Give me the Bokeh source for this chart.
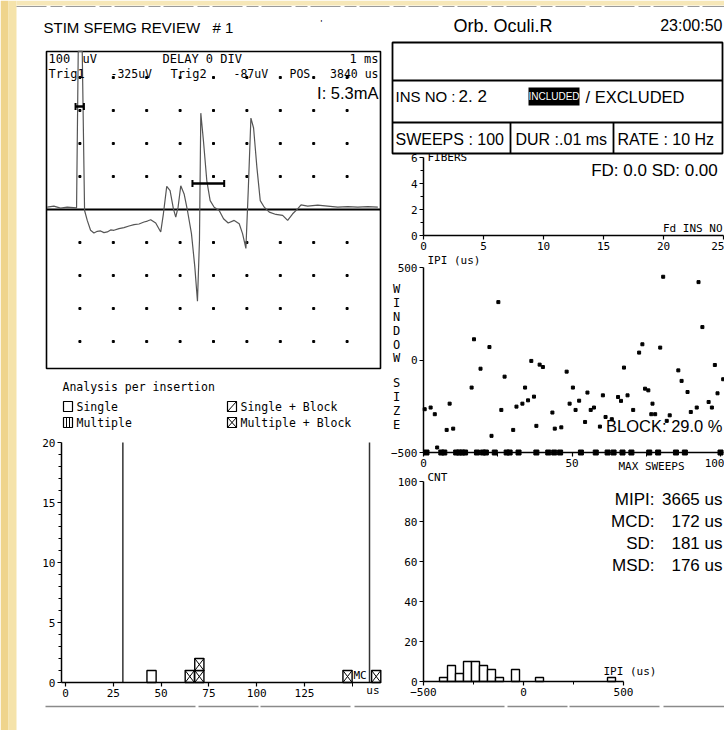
import numpy as np
from bokeh.plotting import figure
from bokeh.models import Range1d, Label, FixedTicker, LinearAxis
from bokeh.embed import file_html
from bokeh.resources import INLINE

MONO = "DejaVu Sans Mono"
SANS = "Liberation Sans"
W, H = 724, 730

# ---------------- data ----------------
# single-fibre EMG trace (time in ms, amplitude in uV)
trace_t_ms = [0.02, 0.22, 0.42, 0.62, 0.90, 0.95, 1.07, 1.14, 1.22, 1.32, 1.42, 1.52, 1.62, 1.72,
              1.82, 1.92, 2.02, 2.17, 2.32, 2.47, 2.62, 2.77, 2.92, 3.02, 3.12, 3.27, 3.42, 3.50,
              3.60, 3.70, 3.80, 3.87, 3.94, 4.02, 4.12, 4.22, 4.34, 4.44, 4.52, 4.58, 4.62, 4.70,
              4.80, 4.90, 5.02, 5.17, 5.30, 5.44, 5.62, 5.77, 5.87, 5.97, 6.04, 6.12, 6.20, 6.30,
              6.40, 6.52, 6.67, 6.87, 7.07, 7.22, 7.37, 7.52, 7.62, 7.82, 8.12, 8.42, 8.72, 9.02,
              9.32, 9.62, 9.92]
trace_uv = [7, 10, 4, 7, 5, 600, 600, -3, -33, -63, -71, -66, -65, -70,
            -68, -62, -63, -58, -55, -50, -46, -44, -38, -35, -31, -41, -68, -13,
            70, 57, 2, -23, 7, 72, 47, -3, -73, -173, -278, -93, 292, 207,
            87, 27, 7, -3, -28, -41, -33, -43, -73, -118, 57, 277, 247, 127,
            27, 7, -8, -15, -18, -33, -13, 2, 14, 10, 13, 10, 7, 9,
            7, 9, 7]
trace_span_ms = (0, 10)
trace_span_uv = (-482, 479)
grid_cols_ms = [1, 2, 3, 4, 5, 6, 7, 8, 9]
grid_rows_uv = [-400, -300, -200, -100, 100, 200, 300, 400]
cursor_start_ms = [0.87, 4.37]
cursor_end_ms = [1.12, 5.32]
cursor_uv = [312, 79]

# analysis per insertion (MCD in us)
mcd_us = [45, 65, 70, 70, 147.5, 162.5]
mcd_kind = ["single", "multi_block", "multi_block", "multi_block", "multi_block", "multi_block"]
mcd_box_us = 4.8
mcd_limits_us = [30, 159]
hist_yticks = [0, 5, 10, 15, 20]
hist_xticks = [0, 25, 50, 75, 100, 125]

# fibers
fib_yticks = [0, 2, 4, 6]
fib_xticks = [0, 5, 10, 15, 20, 25]

# IPI per sweep
ipi_sweep = [0.4, 2.4, 3.8, 4.6, 8.8, 7.8, 10, 16.2, 17, 19.2, 22.2, 22.9, 25.2, 26.2, 27.3,
             30.2, 31.3, 33.3, 34.2, 35.2, 36.3, 37.2, 38, 39.1, 40.2, 43.4, 44.2, 46.4, 48.2,
             49.2, 50.3, 51.2, 52.4, 54.4, 55.2, 56.3, 57.4, 59.4, 60.4, 61.3, 63.4, 65.5, 66.5,
             67.5, 68.7, 70.6, 72.6, 73.7, 74.6, 75.7, 77.1, 76.7, 78, 79.7, 80.7, 81.9, 82.9,
             85.8, 86.9, 88.9, 90, 92.6, 93.9, 92, 96, 97.1, 98.1, 99, 100.9]
ipi_us = [-266, -257, -293, -473, -236, -378, -371, -149, 112, -47, 70, -410, 313, -270, -90,
          -378, -252, -236, -149, -218, -5, -198, -356, -25, -38, -284, -371, -364, -63,
          -236, -149, -270, -220, -335, -176, -270, -257, -360, -191, -308, -320, -200, -221,
          -41, -191, -270, 40, 85, -155, -164, -236, -293, -293, 67, 450, -329, -299,
          -56, -113, -173, -281, 421, 178, -257, -227, -257, -27, -180, -104]
blocked_sweeps = [1, 6, 7, 11, 12, 13, 14, 18, 20, 21, 24, 28, 29, 32, 38, 42, 44, 46, 53,
                  58, 62, 64, 67, 70, 76, 79, 85, 88, 100]
ipi_block_level = -500

# IPI histogram (bins of 40 us)
cnt_bin_left = [-420, -380, -340, -300, -260, -220, -180, -140, -60, 60, 420]
cnt_counts = [2, 8, 4, 10, 10, 8, 6, 2, 6, 2, 2]
cnt_bin_width = 40

# ---------------- figure (page-pixel default ranges) ----------------
p = figure(width=W, height=H, x_range=Range1d(0, W), y_range=Range1d(H, 0),
           x_axis_type=None, y_axis_type=None, toolbar_location=None, output_backend="svg")
p.min_border_left = p.min_border_right = p.min_border_top = p.min_border_bottom = 0
p.outline_line_color = None
p.background_fill_color = "white"
p.border_fill_color = "white"

xr, yr = {}, {}


def panel_ranges(name, vx0, px0, vx1, px1, vy0, py0, vy1, py1):
    kx = (vx1 - vx0) / (px1 - px0)
    xr[name + "_x"] = Range1d(start=vx0 - px0 * kx, end=vx0 + (W - px0) * kx)
    ky = (vy1 - vy0) / (py1 - py0)
    yr[name + "_y"] = Range1d(start=vy0 + (H - py0) * ky, end=vy0 - py0 * ky)


# panel placements on the page: (value, pixel) pairs per axis
panel_ranges("trace", 0, 46, 10, 380, 0, 209, 100, 176)
panel_ranges("hist", 0, 65, 125, 304, 0, 682, 20, 442)
panel_ranges("fib", 0, 423, 25, 723, 0, 235, 6, 157)
panel_ranges("ipi", 0, 423, 100, 720, -500, 452, 500, 267)
panel_ranges("cnt", -500, 423, 500, 623, 0, 681, 100, 481)
p.extra_x_ranges = xr
p.extra_y_ranges = yr


def R(name):
    return dict(x_range_name=name + "_x", y_range_name=name + "_y")


def lab(x, y, text, size=11, font=MONO, align="left", color="black"):
    p.add_layout(Label(x=x, y=y, text=text, text_font=font, text_font_size=f"{size}px",
                       text_align=align, text_baseline="middle", text_color=color))


def add_axis(name, side, ticks, minor, fixed, bounds, minor_len=3):
    ax = LinearAxis(ticker=FixedTicker(ticks=list(ticks), minor_ticks=list(minor)),
                    fixed_location=fixed, bounds=bounds, **R(name))
    ax.axis_line_color = "black"
    ax.axis_line_width = 1.5
    ax.major_tick_line_color = "black"
    ax.major_tick_line_width = 1.2
    ax.major_tick_in = 0
    ax.major_tick_out = 4
    ax.minor_tick_in = 0
    ax.minor_tick_out = minor_len
    ax.minor_tick_line_color = "black"
    ax.minor_tick_line_width = 1
    ax.major_label_text_font = MONO
    ax.major_label_text_font_size = "11px"
    ax.major_label_text_color = "black"
    ax.major_label_standoff = 2
    p.add_layout(ax, side)
    return ax


def pat_box(left, right, bottom, top, kinds, lw=1.2, rn=None):
    kw = R(rn) if rn else {}
    left = np.asarray(left, float); right = np.asarray(right, float)
    bottom = np.asarray(bottom, float); top = np.asarray(top, float)
    p.quad(left=left, right=right, bottom=bottom, top=top, fill_color="white",
           line_color="black", line_width=lw, **kw)
    kinds = np.asarray(kinds)
    blk = np.isin(kinds, ["single_block", "multi_block"])
    if blk.any():
        p.segment(x0=left[blk], y0=bottom[blk], x1=right[blk], y1=top[blk],
                  line_color="black", line_width=1, **kw)
    mb = kinds == "multi_block"
    if mb.any():
        p.segment(x0=left[mb], y0=top[mb], x1=right[mb], y1=bottom[mb],
                  line_color="black", line_width=1, **kw)
    mu = kinds == "multi"
    if mu.any():
        for f in (1 / 3, 2 / 3):
            xm = left[mu] + f * (right[mu] - left[mu])
            p.segment(x0=xm, y0=bottom[mu], x1=xm, y1=top[mu], line_color="black",
                      line_width=1, **kw)


# ---------------- paper edges ----------------
p.quad(left=[0, 8], right=[8, 16], top=[0, 0], bottom=[H, H], fill_color=["#efd48c", "#f5e3aa"],
       line_color=None)
p.quad(left=16, right=W, top=0, bottom=5, fill_color="#f6e7b8", line_color=None)
p.line([16, W], [6, 6], line_color="#9a9a9a", line_width=1, line_dash="30 4 12 3")
p.line([45, W], [706, 706], line_color="#8a8a8a", line_width=1.5, line_dash="150 3 60 2 90 4")

# ---------------- title ----------------
lab(43, 27, "STIM SFEMG REVIEW", 15, SANS)
lab(212, 27, "# 1", 15, SANS)
lab(320, 22, "'", 9, SANS)

# ---------------- trace panel ----------------
p.quad(left=trace_span_ms[0], right=trace_span_ms[1], bottom=trace_span_uv[0],
       top=trace_span_uv[1], fill_color=None, line_color="black", line_width=1.6, **R("trace"))
gx, gy = np.meshgrid(grid_cols_ms, grid_rows_uv)
p.scatter(gx.ravel(), gy.ravel(), marker="square", size=2, color="black", **R("trace"))
p.segment(x0=[trace_span_ms[0]], y0=[0], x1=[trace_span_ms[1]], y1=[0], line_color="black",
          line_width=2, **R("trace"))
p.line(trace_t_ms, np.clip(trace_uv, *trace_span_uv), line_color="#555555", line_width=1.2,
       **R("trace"))
p.segment(x0=cursor_start_ms, y0=cursor_uv, x1=cursor_end_ms, y1=cursor_uv,
          line_color="black", line_width=2.5, **R("trace"))
p.scatter(cursor_start_ms + cursor_end_ms, cursor_uv + cursor_uv, marker="dash",
          angle=np.pi / 2, size=7, line_color="black", line_width=2, **R("trace"))
for px, py, t, al, sz, fn in [
        (48, 58, "100", "left", 12, MONO), (82, 58, "uV", "left", 12, MONO),
        (162, 58, "DELAY  0 DIV", "left", 12, MONO), (378, 58, "1 ms", "right", 12, MONO),
        (48, 73, "Trig1", "left", 12, MONO), (110, 73, "-325uV", "left", 11.5, MONO),
        (170, 73, "Trig2", "left", 12, MONO), (233, 73, "-87uV", "left", 11.5, MONO),
        (289, 73, "POS", "left", 11.5, MONO), (378, 73, "3840 us", "right", 11.5, MONO),
        (378, 92, "I: 5.3mA", "right", 16.5, SANS)]:
    lab(px, py, t, sz, fn, al)

# ---------------- legend ----------------
lab(62, 386, "Analysis per insertion", 11.5)
leg_kinds = ["single", "multi", "single_block", "multi_block"]
leg_names = ["Single", "Multiple", "Single + Block", "Multiple + Block"]
leg_x = [63, 63, 227, 227]
leg_y = [401, 417, 401, 417]
pat_box(leg_x, [v + 9 for v in leg_x], [v + 10 for v in leg_y], leg_y, leg_kinds)
for x, y, n in zip(leg_x, leg_y, leg_names):
    lab(x + 13, y + 5, n, 11.5)

# ---------------- MCD histogram ----------------
add_axis("hist", "left", hist_yticks, [v for v in range(0, 21) if v not in hist_yticks],
         fixed=-2.1, bounds=(0, 20))
add_axis("hist", "below", hist_xticks, [150], fixed=0, bounds=(-2.1, 165), minor_len=4)
p.segment(x0=mcd_limits_us, y0=[0] * len(mcd_limits_us), x1=mcd_limits_us,
          y1=[hist_yticks[-1]] * len(mcd_limits_us), line_color="#333333", line_width=1.5,
          **R("hist"))
lvl, seen = [], {}
for v in mcd_us:
    lvl.append(seen.get(v, 0))
    seen[v] = seen.get(v, 0) + 1
mcd_arr = np.array(mcd_us, float)
lvl = np.array(lvl, float)
pat_box(mcd_arr - mcd_box_us / 2, mcd_arr + mcd_box_us / 2, lvl, lvl + 1, mcd_kind, 1.4, "hist")
lab(379, 690, "us", 11, MONO, "right")
lab(353, 675, "MC", 11, MONO, "left")

# ---------------- header boxes ----------------
lab(453, 25, "Orb. Oculi.R", 18, SANS)
lab(722, 25, "23:00:50", 16, SANS, "right")
p.quad(left=392, right=722, top=42, bottom=153, fill_color=None, line_color="black", line_width=1.8)
p.segment(x0=[392, 392, 510, 613], y0=[80, 122, 122, 122], x1=[722, 722, 510, 613],
          y1=[80, 122, 153, 153], line_color="black", line_width=1.8)
p.quad(left=528, right=579, top=87, bottom=105, fill_color="black", line_color=None)
lab(395, 96, "INS NO :", 15, SANS)
lab(458, 96, "2. 2", 17, SANS)
lab(553.5, 96, "INCLUDED", 10, SANS, "center", "white")
lab(585, 96, "/ EXCLUDED", 16.5, SANS)
lab(395, 139, "SWEEPS : 100", 16, SANS)
lab(515, 139, "DUR :.01 ms", 16, SANS)
lab(617, 139, "RATE : 10 Hz", 16, SANS)

# ---------------- fibers panel ----------------
add_axis("fib", "left", fib_yticks, [1, 3, 5], fixed=0, bounds=(0, 6))
add_axis("fib", "below", fib_xticks, [], fixed=0, bounds=(0, 25))
lab(427, 157, "FIBERS", 11)
lab(722, 170, "FD: 0.0  SD: 0.00", 17, SANS, "right")
lab(722, 228, "Fd INS NO", 11, MONO, "right")

# ---------------- IPI per sweep ----------------
add_axis("ipi", "left", [-500, 0, 500], [], fixed=0, bounds=(-500, 500))
add_axis("ipi", "below", [0, 50, 100], [25, 75], fixed=ipi_block_level, bounds=(0, 101),
         minor_len=4)
p.scatter(ipi_sweep, ipi_us, marker="square", size=3, color="black", **R("ipi"))
p.scatter(blocked_sweeps, [ipi_block_level] * len(blocked_sweeps), marker="square", size=5,
          color="black", **R("ipi"))
lab(427, 260, "IPI (us)", 11)
for ch, py in zip("WINDOW", [288, 302, 316, 330, 344, 357]):
    lab(396, py, ch, 12, MONO, "center")
for ch, py in zip("SIZE", [382, 396, 410, 424]):
    lab(396, py, ch, 12, MONO, "center")
lab(651, 466, "MAX SWEEPS", 11, MONO, "center")
lab(722, 425, "BLOCK: 29.0 %", 16.5, SANS, "right")

# ---------------- IPI histogram ----------------
add_axis("cnt", "left", [0, 20, 40, 60, 80, 100], [], fixed=-500, bounds=(0, 100))
add_axis("cnt", "below", [-500, 0, 500], [-250, 250], fixed=0, bounds=(-500, 500))
cl = np.array(cnt_bin_left, float)
p.quad(left=cl, right=cl + cnt_bin_width, bottom=0, top=cnt_counts, fill_color="white",
       line_color="black", line_width=1.4, **R("cnt"))
lab(427, 477, "CNT", 11)
lab(603, 671, "IPI (us)", 11)
for name, val, py in [("MIPI:", "3665 us", 499), ("MCD:", "172 us", 521),
                      ("SD:", "181 us", 543), ("MSD:", "176 us", 565)]:
    lab(654, py, name, 17, SANS, "right")
    lab(722, py, val, 17, SANS, "right")

open("out.html", "w").write(file_html(p, INLINE))
